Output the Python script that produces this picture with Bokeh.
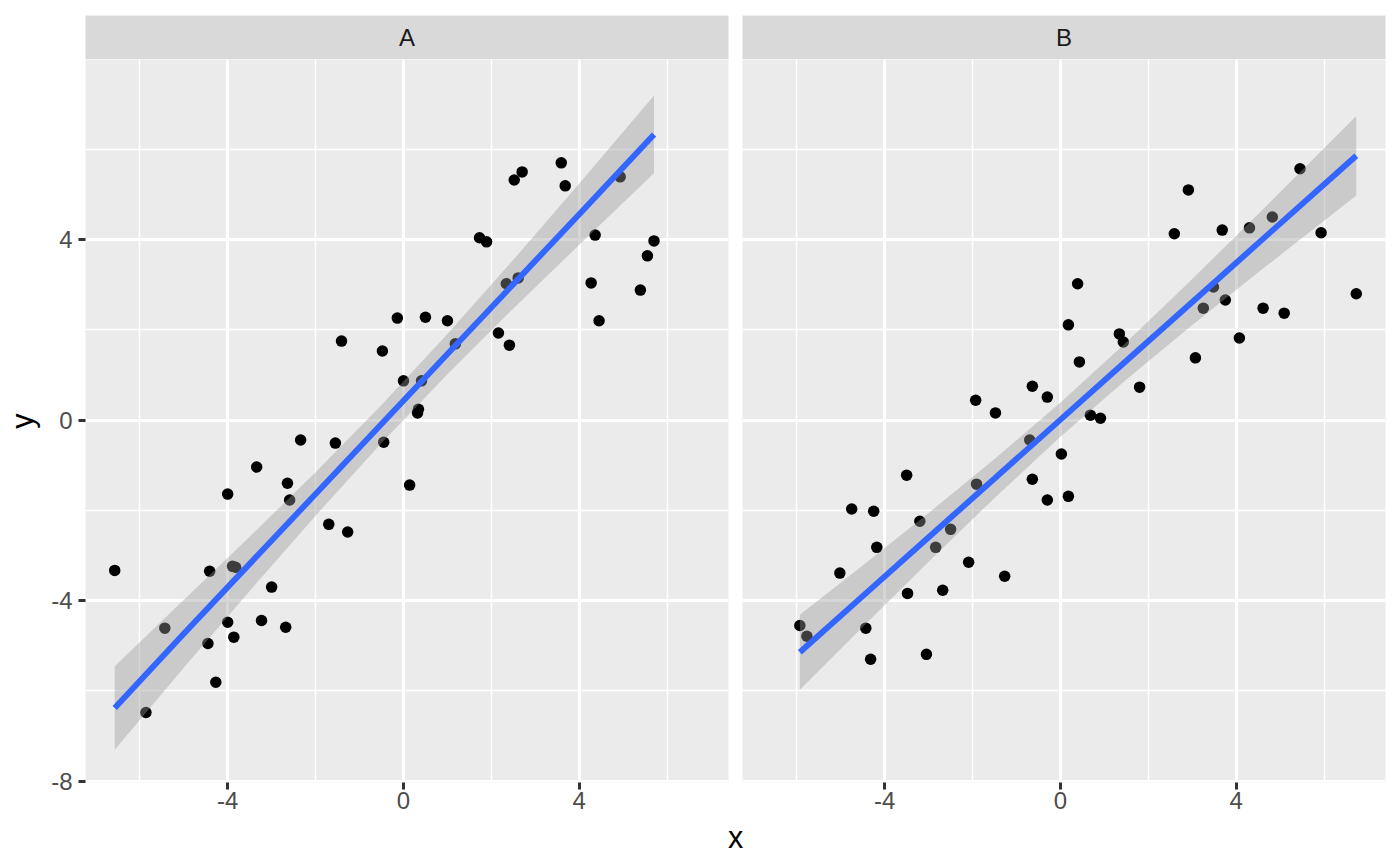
import numpy as np
from bokeh.plotting import figure
from bokeh.layouts import column, row
from bokeh.models import Range1d, FixedTicker, Label
from bokeh.embed import file_html
from bokeh.resources import INLINE

panels = ["A", "B"]

# points, panel A
xA = [-6.57, -5.86, -5.43, -4.45, -4.41, -4.27, -4.00, -4.00, -3.89, -3.82,
      -3.86, -3.34, -3.23, -3.00, -2.68, -2.64, -2.59, -2.34, -1.70, -1.55,
      -1.41, -1.27, -0.48, -0.45, -0.14, 0.00, 0.14, 0.32, 0.34, 0.41,
      0.50, 1.00, 1.18, 1.73, 1.89, 2.16, 2.34, 2.41, 2.52, 2.61,
      2.70, 3.59, 3.68, 4.27, 4.36, 4.45, 4.93, 5.39, 5.55, 5.70]
yA = [-3.33, -6.48, -4.61, -4.95, -3.35, -5.81, -1.64, -4.48, -3.24, -3.26,
      -4.81, -1.04, -4.44, -3.70, -4.59, -1.40, -1.77, -0.44, -2.31, -0.51,
      1.75, -2.48, 1.53, -0.49, 2.26, 0.87, -1.44, 0.16, 0.24, 0.87,
      2.28, 2.20, 1.69, 4.04, 3.95, 1.93, 3.02, 1.66, 5.32, 3.15,
      5.50, 5.70, 5.19, 3.04, 4.10, 2.20, 5.39, 2.88, 3.64, 3.97]

# points, panel B
xB = [-5.93, -5.77, -5.02, -4.75, -4.43, -4.32, -4.25, -4.18, -3.50, -3.48,
      -3.20, -3.05, -2.84, -2.68, -2.50, -2.09, -1.93, -1.91, -1.48, -1.27,
      -0.70, -0.64, -0.64, -0.30, -0.30, 0.02, 0.18, 0.18, 0.39, 0.43,
      0.68, 0.91, 1.34, 1.43, 1.80, 2.59, 2.91, 3.07, 3.25, 3.48,
      3.68, 3.75, 4.07, 4.30, 4.61, 4.82, 5.09, 5.45, 5.93, 6.73]
yB = [-4.55, -4.79, -3.39, -1.97, -4.61, -5.30, -2.02, -2.82, -1.22, -3.84,
      -2.24, -5.19, -2.82, -3.77, -2.42, -3.15, 0.44, -1.42, 0.16, -3.46,
      -0.44, 0.75, -1.31, 0.51, -1.77, -0.75, 2.11, -1.69, 3.02, 1.29,
      0.11, 0.04, 1.91, 1.73, 0.73, 4.13, 5.10, 1.38, 2.48, 2.95,
      4.21, 2.66, 1.82, 4.26, 2.48, 4.50, 2.37, 5.57, 4.15, 2.80]

# smoother (lm fit) and its 95% band half-width
fitA_x = [-6.57, -5.0, -3.5, -2.0, -0.5, 1.0, 2.5, 4.0, 5.70]
fitA_y = [-6.38, -4.735, -3.186, -1.636, -0.087, 1.463, 3.013, 4.562, 6.33]
fitA_h = [0.925, 0.751, 0.601, 0.482, 0.422, 0.445, 0.540, 0.678, 0.86]

fitB_x = [-5.93, -4.5, -3.0, -1.5, 0.0, 1.5, 3.0, 4.5, 6.73]
fitB_y = [-5.143, -3.901, -2.597, -1.294, 0.01, 1.314, 2.617, 3.921, 5.858]
fitB_h = [0.83, 0.681, 0.540, 0.430, 0.380, 0.412, 0.511, 0.647, 0.88]

x_major = [-4, 0, 4]
x_minor = [-6, -2, 2, 6]
y_major = [-8, -4, 0, 4]
y_minor = [-6, -2, 2, 6]
x_tick_labels = ["-4", "0", "4"]
y_tick_labels = ["-8", "-4", "0", "4"]
y_limits = [-8.03, 7.99]
x_title = "x"
y_title = "y"

FONT = "Liberation Sans"

points = {"A": (xA, yA), "B": (xB, yB)}
smooth = {"A": (fitA_x, fitA_y, fitA_h), "B": (fitB_x, fitB_y, fitB_h)}

allx = np.array(xA + xB)
xlo, xhi = allx.min(), allx.max()
xpad = 0.05 * (xhi - xlo)
xr = Range1d(xlo - xpad, xhi + xpad)
yr = Range1d(y_limits[0], y_limits[1])

widths = [735, 665]
borders_l = [85, 7]
borders_r = [7, 15]
STRIP_H = 59
PANEL_H = 759
TITLE_H = 866 - STRIP_H - PANEL_H

strip_figs = []
panel_figs = []
for i, name in enumerate(panels):
    xs, ys = points[name]
    fx, fy, fh = smooth[name]
    lo = [a - b for a, b in zip(fy, fh)]
    hi = [a + b for a, b in zip(fy, fh)]

    # facet strip
    s = figure(width=widths[i], height=STRIP_H, x_range=Range1d(0, 1), y_range=Range1d(0, 1),
               title=None, output_backend="svg", toolbar_location=None,
               x_axis_location=None, y_axis_location=None,
               min_border_left=borders_l[i], min_border_right=borders_r[i],
               min_border_top=15, min_border_bottom=0)
    s.grid.visible = False
    s.outline_line_color = None
    s.background_fill_color = "#D9D9D9"
    s.border_fill_color = "white"
    s.add_layout(Label(x=0.5, y=0.5, text=name, text_align="center",
                       text_baseline="middle", text_font=FONT,
                       text_font_size="24px", text_color="#1A1A1A"))
    strip_figs.append(s)

    # panel
    p = figure(width=widths[i], height=PANEL_H, x_range=xr, y_range=yr,
               title=None, output_backend="svg", toolbar_location=None,
               y_axis_location="left" if i == 0 else None,
               min_border_left=borders_l[i], min_border_right=borders_r[i],
               min_border_top=0, min_border_bottom=PANEL_H - 723)
    p.outline_line_color = None
    p.background_fill_color = "#EBEBEB"
    p.border_fill_color = "white"

    axes = [p.xaxis[0]] + ([p.yaxis[0]] if i == 0 else [])
    for ax in axes:
        ax.axis_line_color = None
        ax.major_tick_line_color = "#333333"
        ax.major_tick_line_width = 3
        ax.major_tick_in = 0
        ax.major_tick_out = 7
        ax.minor_tick_line_color = None
        ax.major_label_text_font = FONT
        ax.major_label_text_font_size = "24px"
        ax.major_label_text_color = "#4D4D4D"
    p.xaxis.ticker = FixedTicker(ticks=x_major, minor_ticks=x_minor)
    p.xaxis.major_label_overrides = {t: l for t, l in zip(x_major, x_tick_labels)}
    p.xaxis.major_label_standoff = 2
    if i == 0:
        p.yaxis.ticker = FixedTicker(ticks=y_major, minor_ticks=y_minor)
        p.yaxis.major_label_overrides = {t: l for t, l in zip(y_major, y_tick_labels)}
        p.yaxis.major_label_standoff = 6
        p.yaxis.axis_label = y_title
        p.yaxis.axis_label_text_font = FONT
        p.yaxis.axis_label_text_font_size = "30.5px"
        p.yaxis.axis_label_text_font_style = "normal"
        p.yaxis.axis_label_text_color = "black"
        p.yaxis.axis_label_standoff = 9
    else:
        p.ygrid.ticker = FixedTicker(ticks=y_major, minor_ticks=y_minor)

    p.grid.grid_line_color = "white"
    p.grid.grid_line_width = 3
    p.grid.minor_grid_line_color = "white"
    p.grid.minor_grid_line_width = 1.5

    p.scatter(xs, ys, size=11.5, color="black", line_color=None)
    p.varea(x=fx, y1=lo, y2=hi, fill_color="#999999", fill_alpha=0.4)
    p.line(fx, fy, line_color="#3366FF", line_width=5.9)
    panel_figs.append(p)

# shared x-axis title
TW = sum(widths)
t = figure(width=TW, height=TITLE_H, x_range=Range1d(0, TW), y_range=Range1d(0, TITLE_H),
           title=None, output_backend="svg", toolbar_location=None,
           x_axis_location=None, y_axis_location=None, min_border=0)
t.grid.visible = False
t.outline_line_color = None
t.background_fill_color = "white"
t.border_fill_color = "white"
t.add_layout(Label(x=735, y=30, text=x_title, text_align="center", text_baseline="middle",
                   text_font=FONT, text_font_size="30.5px", text_color="black"))

layout = column(row(*strip_figs), row(*panel_figs), t)

open("out.html", "w").write(file_html(layout, INLINE))
